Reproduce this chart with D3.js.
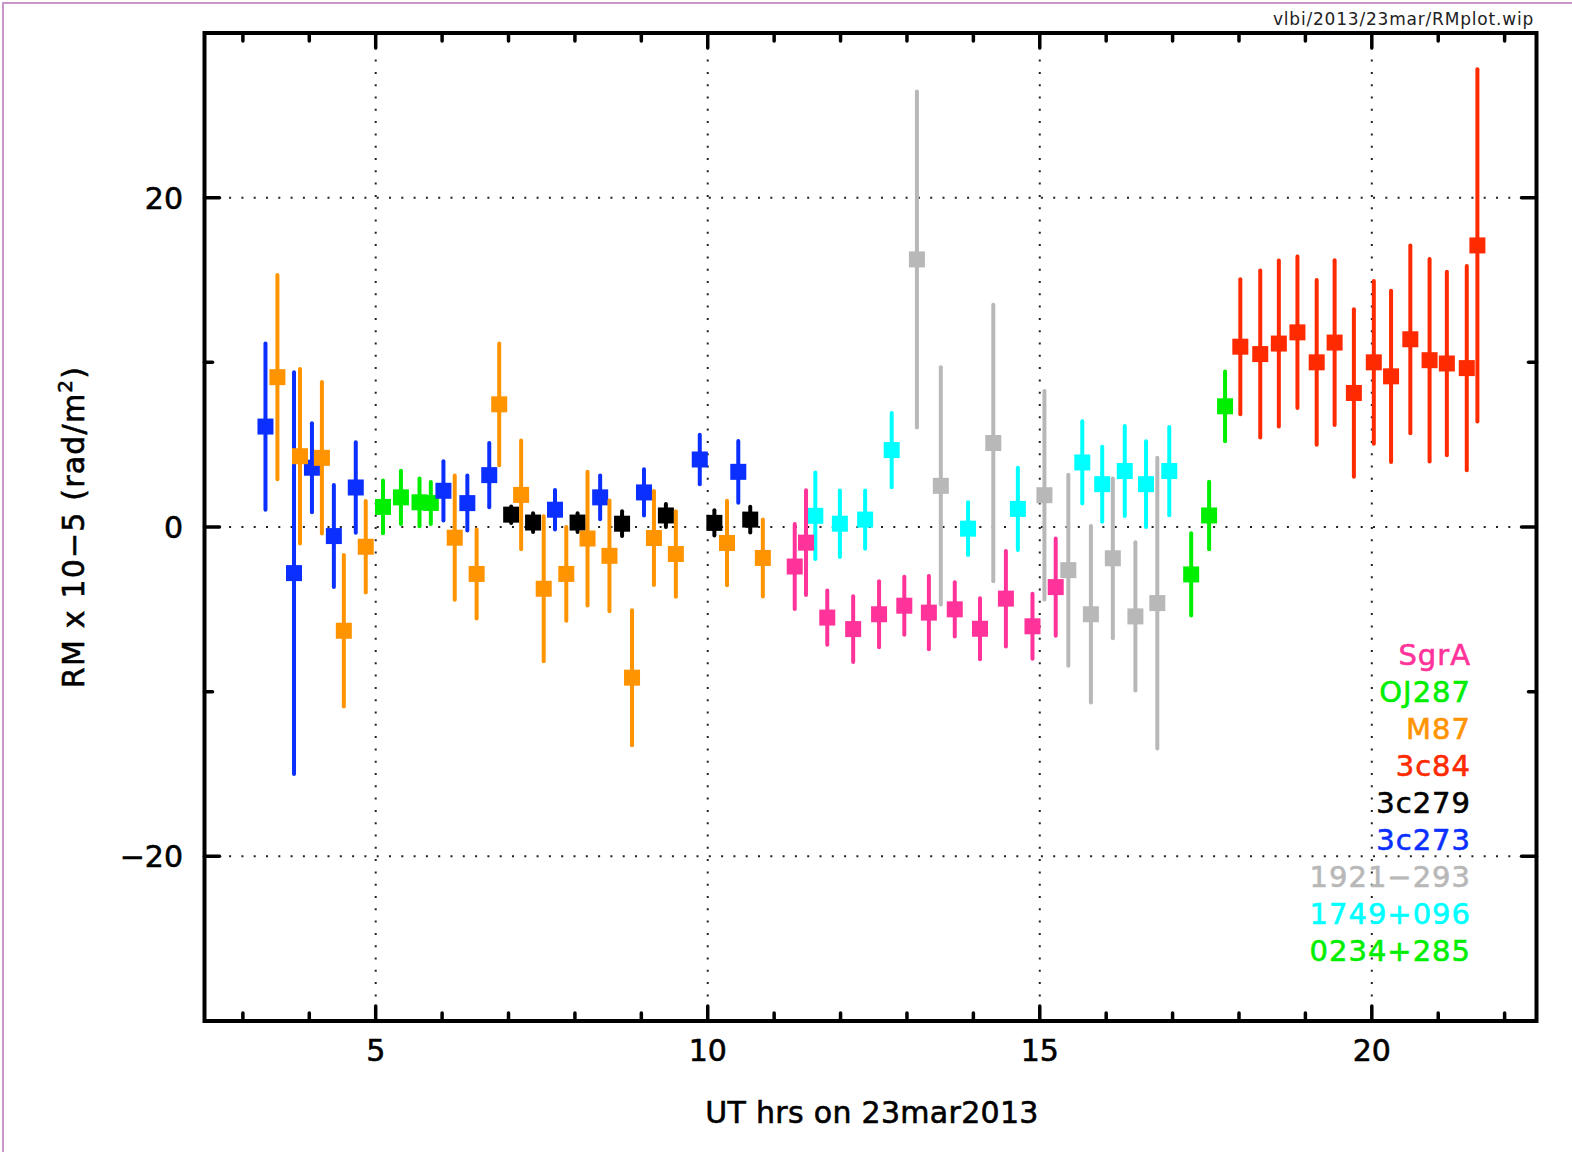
<!DOCTYPE html>
<html>
<head>
<meta charset="utf-8">
<script src="https://cdn.jsdelivr.net/npm/d3@7"></script>
<style>
  body { margin: 0; background: #fff; }
  svg text { font-family: "DejaVu Sans", sans-serif; }
</style>
</head>
<body>
<div id="container"></div>
<script>
// chart size
const width = 1572;
const height = 1152;
const margin = {left: 204.5, right: 35.5, top: 33, bottom: 131};

// data: UT hour, RM value (x 10^5 rad/m^2), error
const names = ["SgrA", "OJ287", "M87", "3c84", "3c279", "3c273", "1921\u2212293", "1749+096", "0234+285"];
const colors = ["#ff3399", "#00ee00", "#ff9400", "#ff2a00", "#000000", "#0a2fff", "#b8b8b8", "#00ffff", "#00ee00"];

const sgraT = [11.31, 11.48, 11.80, 12.19, 12.58, 12.96, 13.33, 13.72, 14.10, 14.49, 14.89, 15.24];
const sgraV = [-2.4, -0.95, -5.5, -6.2, -5.3, -4.78, -5.2, -5.0, -6.18, -4.35, -6.03, -3.65];
const sgraE = [2.58, 3.18, 1.65, 2.0, 2.0, 1.76, 2.23, 1.65, 1.85, 2.9, 1.97, 2.95];

const oj287T = [17.28, 17.55, 17.79];
const oj287V = [-2.88, 0.7, 7.33];
const oj287E = [2.5, 2.05, 2.12];

const m87T = [3.52, 3.86, 4.19, 4.52, 4.85, 6.19, 6.52, 6.86, 7.19, 7.53, 7.87, 8.19, 8.52, 8.86, 9.19, 9.52, 10.29, 10.83];
const m87V = [9.1, 4.3, 4.2, -6.3, -1.2, -0.65, -2.85, 7.45, 1.95, -3.75, -2.85, -0.7, -1.75, -9.15, -0.67, -1.64, -0.97, -1.88];
const m87E = [6.2, 5.3, 4.6, 4.6, 2.78, 3.77, 2.7, 3.7, 3.3, 4.4, 2.85, 4.06, 3.36, 4.1, 2.85, 2.6, 2.57, 2.34];

const c84T = [18.02, 18.32, 18.60, 18.88, 19.17, 19.44, 19.73, 20.03, 20.29, 20.58, 20.87, 21.13, 21.43, 21.59];
const c84V = [10.95, 10.5, 11.14, 11.82, 10.0, 11.2, 8.14, 10.0, 9.15, 11.4, 10.13, 9.93, 9.65, 17.1];
const c84E = [4.1, 5.07, 5.04, 4.6, 5.0, 5.0, 5.09, 4.94, 5.2, 5.7, 6.15, 5.57, 6.2, 10.7];

const c279T = [7.04, 7.37, 8.04, 8.71, 9.37, 10.10, 10.64];
const c279V = [0.75, 0.27, 0.27, 0.2, 0.7, 0.25, 0.45];
const c279E = [0.5, 0.57, 0.57, 0.75, 0.7, 0.77, 0.78];

const c273T = [3.34, 3.77, 4.04, 4.37, 4.70, 6.02, 6.38, 6.71, 7.70, 8.38, 9.04, 9.88, 10.46];
const c273V = [6.1, -2.8, 3.6, -0.55, 2.4, 2.2, 1.45, 3.15, 1.05, 1.8, 2.1, 4.1, 3.35];
const c273E = [5.05, 12.2, 2.7, 3.1, 2.75, 1.8, 1.67, 1.95, 1.2, 1.33, 1.4, 1.5, 1.87];

const s1921T = [13.15, 13.51, 14.30, 15.07, 15.43, 15.77, 16.10, 16.44, 16.77];
const s1921V = [16.25, 2.5, 5.1, 1.93, -2.62, -5.3, -1.9, -5.43, -4.62];
const s1921E = [10.2, 7.2, 8.4, 6.33, 5.8, 5.36, 4.85, 4.5, 8.83];

const s1749T = [11.62, 11.99, 12.37, 12.77, 13.92, 14.67, 15.64, 15.94, 16.28, 16.60, 16.95];
const s1749V = [0.68, 0.2, 0.45, 4.67, -0.1, 1.1, 3.92, 2.6, 3.4, 2.6, 3.4];
const s1749E = [2.63, 2.02, 1.77, 2.25, 1.6, 2.5, 2.5, 2.28, 2.73, 2.6, 2.68];

const s0234T = [5.11, 5.38, 5.66, 5.83];
const s0234V = [1.22, 1.8, 1.5, 1.46];
const s0234E = [1.6, 1.62, 1.45, 1.28];

// axis ticks
const xMajor = [5, 10, 15, 20];
const xMinor = [3, 4, 6, 7, 8, 9, 11, 12, 13, 14, 16, 17, 18, 19, 21, 22];
const yMajor = [-20, 0, 20];
const yMinor = [-10, 10];

// drawing order (back to front)
const series = [
    {name: "0234+285", t: s0234T, v: s0234V, e: s0234E, color: colors[8]},
    {name: "3c279", t: c279T, v: c279V, e: c279E, color: colors[4]},
    {name: "3c273", t: c273T, v: c273V, e: c273E, color: colors[5]},
    {name: "M87", t: m87T, v: m87V, e: m87E, color: colors[2]},
    {name: "1921-293", t: s1921T, v: s1921V, e: s1921E, color: colors[6]},
    {name: "1749+096", t: s1749T, v: s1749V, e: s1749E, color: colors[7]},
    {name: "SgrA", t: sgraT, v: sgraV, e: sgraE, color: colors[0]},
    {name: "OJ287", t: oj287T, v: oj287V, e: oj287E, color: colors[1]},
    {name: "3c84", t: c84T, v: c84V, e: c84E, color: colors[3]}
];

const svg = d3.select("#container")
    .append("svg")
    .attr("width", width)
    .attr("height", height);

// pink page frame
svg.append("rect")
    .attr("x", 3).attr("y", 3)
    .attr("width", width + 20).attr("height", height + 20)
    .attr("fill", "none")
    .attr("stroke", "#c896c8")
    .attr("stroke-width", 2);

// file name in corner
svg.append("text")
    .attr("x", 1534).attr("y", 25)
    .attr("text-anchor", "end")
    .attr("font-size", 17)
    .attr("letter-spacing", 0.8)
    .attr("fill", "#222")
    .text("vlbi/2013/23mar/RMplot.wip");

const xScale = d3.scaleLinear()
    .domain([2.422, 22.48])
    .range([margin.left, width - margin.right]);

const yScale = d3.scaleLinear()
    .domain([-30, 30])
    .range([height - margin.bottom, margin.top]);

const x0 = xScale.range()[0], x1 = xScale.range()[1];
const y0 = yScale.range()[1], y1 = yScale.range()[0];

// dotted grid
const grid = svg.append("g")
    .attr("stroke", "#222")
    .attr("stroke-width", 2)
    .attr("stroke-dasharray", "2,10.3");
grid.selectAll("line.gx").data(xMajor).enter().append("line")
    .attr("x1", d => xScale(d)).attr("x2", d => xScale(d))
    .attr("y1", y1).attr("y2", y0);
grid.selectAll("line.gy").data(yMajor).enter().append("line")
    .attr("x1", x0).attr("x2", x1)
    .attr("y1", d => yScale(d)).attr("y2", d => yScale(d));

// ticks on all four sides (inward)
const ticks = svg.append("g")
    .attr("stroke", "#000")
    .attr("stroke-width", 3.5)
    .attr("stroke-linecap", "round");
function xTicks(data, len) {
    ticks.selectAll(null).data(data).enter().append("line")
        .attr("x1", d => xScale(d)).attr("x2", d => xScale(d))
        .attr("y1", y1).attr("y2", y1 - len);
    ticks.selectAll(null).data(data).enter().append("line")
        .attr("x1", d => xScale(d)).attr("x2", d => xScale(d))
        .attr("y1", y0).attr("y2", y0 + len);
}
function yTicks(data, len) {
    ticks.selectAll(null).data(data).enter().append("line")
        .attr("y1", d => yScale(d)).attr("y2", d => yScale(d))
        .attr("x1", x0).attr("x2", x0 + len);
    ticks.selectAll(null).data(data).enter().append("line")
        .attr("y1", d => yScale(d)).attr("y2", d => yScale(d))
        .attr("x1", x1).attr("x2", x1 - len);
}
xTicks(xMajor, 15);
xTicks(xMinor, 8);
yTicks(yMajor, 15);
yTicks(yMinor, 8);

// data: error bars and squares
const box = 16;
series.forEach(function (s) {
    const g = svg.append("g").attr("class", "series");
    const pts = s.t.map((t, i) => ({t: t, v: s.v[i], e: s.e[i]}));
    g.selectAll("line").data(pts).enter().append("line")
        .attr("x1", d => xScale(d.t)).attr("x2", d => xScale(d.t))
        .attr("y1", d => yScale(d.v + d.e)).attr("y2", d => yScale(d.v - d.e))
        .attr("stroke", s.color)
        .attr("stroke-width", 4)
        .attr("stroke-linecap", "round");
    g.selectAll("rect").data(pts).enter().append("rect")
        .attr("x", d => xScale(d.t) - box / 2)
        .attr("y", d => yScale(d.v) - box / 2)
        .attr("width", box).attr("height", box)
        .attr("fill", s.color);
});

// frame
svg.append("rect")
    .attr("x", x0).attr("y", y0)
    .attr("width", x1 - x0).attr("height", y1 - y0)
    .attr("fill", "none")
    .attr("stroke", "#000")
    .attr("stroke-width", 4);

// tick labels
svg.selectAll("text.xlab").data(xMajor).enter().append("text")
    .attr("x", d => xScale(d)).attr("y", 1061)
    .attr("text-anchor", "middle")
    .attr("font-size", 30)
    .attr("stroke", "#000").attr("stroke-width", 0.6)
    .text(d => d);
svg.selectAll("text.ylab").data(yMajor).enter().append("text")
    .attr("x", 183).attr("y", d => yScale(d) + 11)
    .attr("text-anchor", "end")
    .attr("font-size", 30)
    .attr("stroke", "#000").attr("stroke-width", 0.6)
    .text(d => d < 0 ? "\u2212" + Math.abs(d) : d);

// axis titles
svg.append("text")
    .attr("x", 872).attr("y", 1123)
    .attr("text-anchor", "middle")
    .attr("font-size", 30)
    .attr("letter-spacing", 0.3)
    .attr("stroke", "#000").attr("stroke-width", 0.6)
    .text("UT hrs on 23mar2013");

const yTitle = svg.append("text")
    .attr("transform", "translate(84, 527) rotate(-90)")
    .attr("text-anchor", "middle")
    .attr("font-size", 30)
    .attr("letter-spacing", 1.2)
    .attr("stroke", "#000").attr("stroke-width", 0.6);
yTitle.append("tspan").text("RM x 10\u22125 (rad/m");
yTitle.append("tspan").attr("dy", -12).attr("font-size", 20).text("2");
yTitle.append("tspan").attr("dy", 12).text(")");

// legend
svg.selectAll("text.legend").data(names).enter().append("text")
    .attr("x", 1471)
    .attr("y", (d, i) => 665 + i * 37)
    .attr("text-anchor", "end")
    .attr("font-size", 29)
    .attr("letter-spacing", 1)
    .attr("fill", (d, i) => colors[i])
    .attr("stroke", (d, i) => colors[i]).attr("stroke-width", 0.6)
    .text(d => d);
</script>
</body>
</html>
